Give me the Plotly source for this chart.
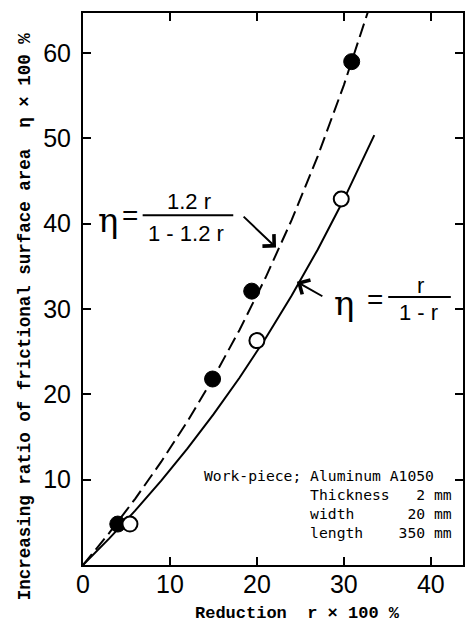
import plotly.graph_objects as go

# Measured data
filled_r = [4.0, 14.9, 19.4, 30.9]
filled_eta = [4.8, 21.8, 32.1, 59.0]
open_r = [5.4, 20.0, 29.7]
open_eta = [4.8, 26.3, 42.9]

# Theoretical curves
solid_r = [0, 3, 6, 9, 12, 15, 18, 21, 24, 27, 30, 33.5]
solid_eta = [0, 3.09, 6.38, 9.89, 13.64, 17.65, 21.95, 26.58, 31.58, 36.99, 42.86, 50.38]
dash_r = [0, 3, 6, 9, 12, 15, 18, 21, 24, 27, 30, 32, 33]
dash_eta = [0, 3.73, 7.76, 12.11, 16.82, 21.95, 27.55, 33.69, 40.45, 47.93, 56.25, 62.34, 65.56]

x_ticks = [0, 10, 20, 30, 40]
y_ticks = [10, 20, 30, 40, 50, 60]

MONO = "Liberation Mono, Courier New, monospace"
NOTE_MONO = "DejaVu Sans Mono, Liberation Mono, monospace"
SANS = "Liberation Sans, Arial, sans-serif"

fig = go.Figure()
fig.add_trace(go.Scatter(x=dash_r, y=dash_eta, mode="lines",
                         line=dict(color="black", width=2, dash="14px,6px")))
fig.add_trace(go.Scatter(x=solid_r, y=solid_eta, mode="lines",
                         line=dict(color="black", width=2)))
fig.add_trace(go.Scatter(x=filled_r, y=filled_eta, mode="markers",
                         marker=dict(color="black", size=16, line=dict(color="black", width=1))))
fig.add_trace(go.Scatter(x=open_r, y=open_eta, mode="markers",
                         marker=dict(color="white", size=15, line=dict(color="black", width=2))))

axis_common = dict(showline=True, linecolor="black", linewidth=2, mirror="ticks",
                   ticks="inside", ticklen=8, tickwidth=2, tickcolor="black",
                   showgrid=False, zeroline=False,
                   tickfont=dict(family=SANS, size=25, color="black"))
fig.update_xaxes(range=[0, 43.7], tickvals=x_ticks, ticklabelstandoff=-4, **axis_common)
fig.update_yaxes(range=[0, 64.7], tickvals=y_ticks, ticklabelstandoff=5, **axis_common)

ann = []
def txt(x, y, t, size, family=SANS, xanchor="center", **kw):
    ann.append(dict(x=x, y=y, xref="x", yref="y", text=t, showarrow=False,
                    font=dict(family=family, size=size, color="black"),
                    xanchor=xanchor, yanchor="middle", **kw))

# Left formula
txt(2.86, 40.4, "η", 34, family="DejaVu Serif, serif")
txt(5.38, 41.0, "=", 28)
txt(12.2, 42.6, "1.2 r", 22)
txt(11.9, 38.9, "1 - 1.2 r", 22)
# Right formula
txt(29.98, 30.7, "η", 34, family="DejaVu Serif, serif")
txt(33.6, 31.1, "=", 28)
txt(38.8, 32.8, "r", 22)
txt(38.6, 29.6, "1 - r", 22)

# Arrows
ann.append(dict(x=22.2, y=37.2, ax=18.3, ay=41.0, xref="x", yref="y", axref="x", ayref="y",
                showarrow=True, arrowhead=4, arrowsize=1.6, arrowwidth=2, arrowcolor="black", text=""))
ann.append(dict(x=24.6, y=33.2, ax=27.7, ay=31.4, xref="x", yref="y", axref="x", ayref="y",
                showarrow=True, arrowhead=4, arrowsize=1.6, arrowwidth=2, arrowcolor="black", text=""))

# Work-piece note
nb = "\u00a0"
note_lines = [
    "Work-piece; Aluminum A1050",
    nb * 12 + "Thickness" + nb * 3 + "2 mm",
    nb * 12 + "width" + nb * 6 + "20 mm",
    nb * 12 + "length" + nb * 4 + "350 mm",
]
ann.append(dict(x=13.7, y=7.15, xref="x", yref="y", text="<br>".join(note_lines),
                showarrow=False, align="left", xanchor="left", yanchor="middle",
                font=dict(family=NOTE_MONO, size=14.7, color="black")))

# Axis titles (paper coordinates)
ann.append(dict(x=0.565, y=-0.088, xref="paper", yref="paper", showarrow=False,
                text="<b>Reduction" + nb * 2 + "r × 100 %</b>",
                font=dict(family=MONO, size=17, color="black"),
                xanchor="center", yanchor="middle"))
ann.append(dict(x=-0.152, y=0.451, xref="paper", yref="paper", showarrow=False, textangle=-90,
                text="<b>Increasing ratio of frictional surface area" + nb * 2 + "η × 100 %</b>",
                font=dict(family=MONO, size=17.5, color="black"),
                xanchor="center", yanchor="middle"))

fig.update_layout(
    width=475, height=622,
    margin=dict(l=83, r=10, t=13, b=57),
    paper_bgcolor="white", plot_bgcolor="white",
    showlegend=False,
    annotations=ann,
    shapes=[
        dict(type="line", xref="x", yref="y", x0=6.86, x1=17.28, y0=41.0, y1=41.0,
             line=dict(color="black", width=2)),
        dict(type="line", xref="x", yref="y", x0=35.1, x1=42.3, y0=31.4, y1=31.4,
             line=dict(color="black", width=2)),
    ],
)

fig.write_html("out.html")
